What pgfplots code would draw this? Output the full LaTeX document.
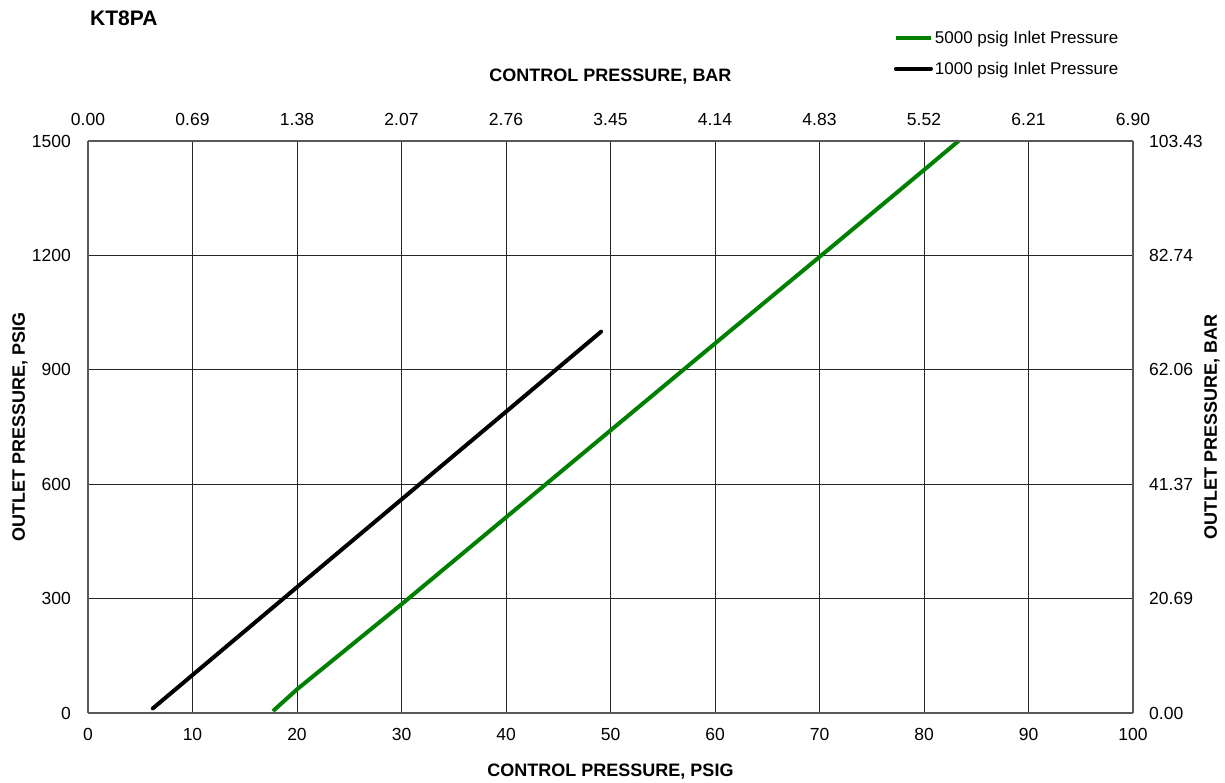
\documentclass[border=0pt]{standalone}
\usepackage{fontspec}
\setmainfont{Liberation Sans}
\usepackage{pgfplots}
\pgfplotsset{compat=1.18}
\definecolor{kgreen}{RGB}{0,128,0}

\begin{document}
\begin{tikzpicture}[x=1pt,y=1pt]
\useasboundingbox (-88,-70) rectangle (1137,713);
% main axis: psig
\begin{axis}[at={(0,0)},anchor=south west,
    scale only axis,width=1045pt,height=572pt,
    xmin=0,xmax=100,ymin=0,ymax=1500,
    xtick={0,10,...,100},ytick={0,300,...,1500},
    grid=major,grid style={black!85,line width=0.9pt},
    axis line style={black!65,line width=1.2pt},
    axis x line*=bottom,axis y line*=left,
    major tick length=0pt,tick style={draw=none},
    tick label style={font=\fontsize{17.5}{20}\selectfont,inner sep=0pt},
    xticklabel style={anchor=north,yshift=-15pt},
    yticklabel style={anchor=east,xshift=-17pt},
    /pgf/number format/assume math mode=true,
    /pgf/number format/1000 sep={},
    xlabel={\textbf{CONTROL PRESSURE, PSIG}},
    ylabel={\textbf{OUTLET PRESSURE, PSIG}},
    label style={font=\fontsize{18}{21}\selectfont},
    xlabel style={at={(axis description cs:0.5,0)},anchor=center,yshift=-59pt},
    ylabel style={at={(axis description cs:0,0.5)},anchor=center,yshift=68pt},
    legend style={draw=none,fill=none,at={(axis description cs:0.988,1.196)},anchor=north east,
      font=\fontsize{17}{20}\selectfont,row sep=13pt,inner sep=0pt},
    legend cell align=left,
    legend image code/.code={\draw[#1,line width=4pt] (0pt,0pt) -- (35pt,0pt);},
    clip=false]
  \addplot[kgreen,line width=4pt] coordinates {
    (17.7,5)(20,62)(30,285)(40,513)(50,741)(60,969)(70,1196)(80,1424)(83.3,1500)};
  \addplot[black,line width=4pt,line cap=round] coordinates {
    (6.2,12)(20,330)(30,560)(40,790)(49.1,1000)};
  \legend{5000 psig Inlet Pressure,1000 psig Inlet Pressure}
\end{axis}
% secondary axis: bar
\begin{axis}[at={(0,0)},anchor=south west,
    scale only axis,width=1045pt,height=572pt,
    xmin=0,xmax=100,ymin=0,ymax=1500,
    axis x line*=top,axis y line*=right,
    axis line style={black!65,line width=1.2pt},
    major tick length=0pt,tick style={draw=none},
    xtick={0,10,...,100},ytick={0,300,...,1500},
    xticklabels={0.00,0.69,1.38,2.07,2.76,3.45,4.14,4.83,5.52,6.21,6.90},
    yticklabels={0.00,20.69,41.37,62.06,82.74,103.43},
    tick label style={font=\fontsize{17.5}{20}\selectfont,inner sep=0pt},
    xticklabel style={anchor=south,yshift=15pt},
    yticklabel style={anchor=west,xshift=16pt},
    xlabel={\textbf{CONTROL PRESSURE, BAR}},
    ylabel={\textbf{OUTLET PRESSURE, BAR}},
    label style={font=\fontsize{18}{21}\selectfont},
    xlabel style={at={(axis description cs:0.5,1)},anchor=center,yshift=64pt},
    ylabel style={at={(axis description cs:1,0.5)},anchor=center,rotate=0,yshift=-79pt},
    ]
\end{axis}
\node[anchor=west,font=\fontsize{21}{24}\selectfont\bfseries,inner sep=0pt] at (2,695) {KT8PA};
\end{tikzpicture}
\end{document}
